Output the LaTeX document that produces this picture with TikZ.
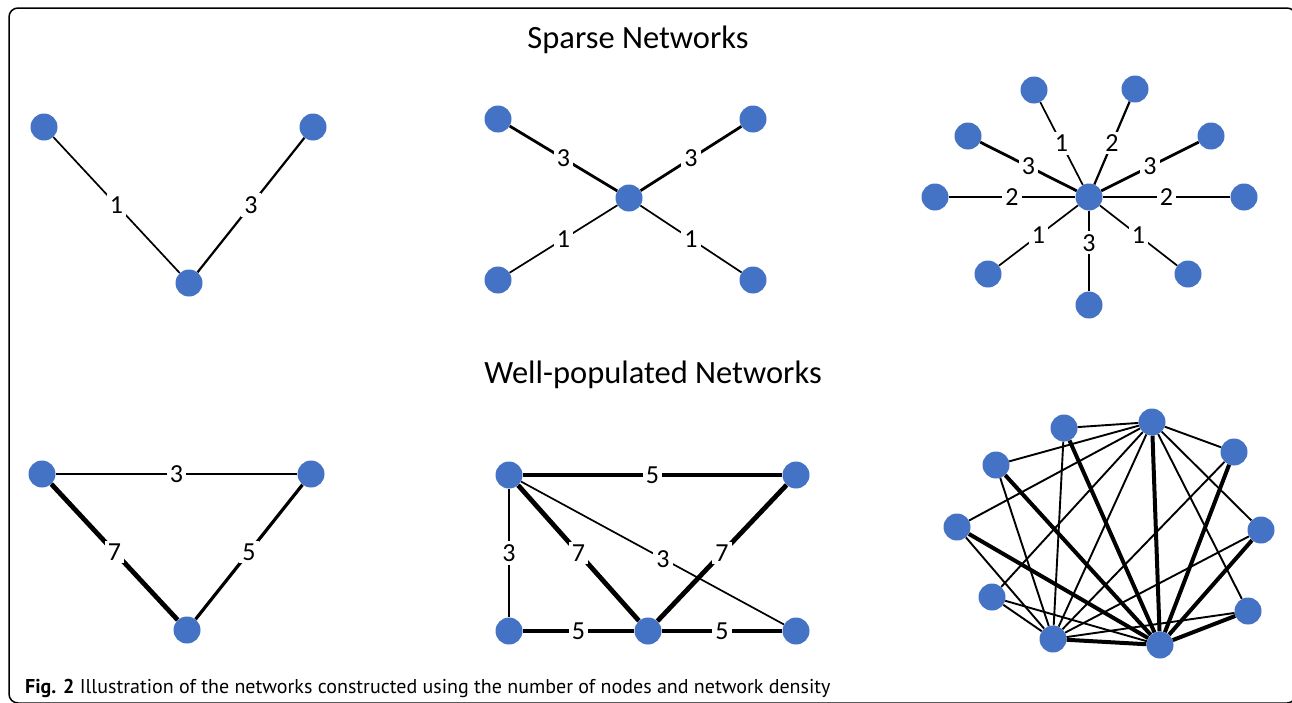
\documentclass[tikz,border=0pt]{standalone}
\usepackage{fontspec}
\setmainfont{Carlito}
\newfontfamily\capfont{PT Sans}
\usetikzlibrary {positioning}
\definecolor{nodeblue}{RGB}{68,114,196}
\tikzset{
vertA/.style={circle,fill=nodeblue,minimum size=27pt,inner sep=0pt}
}
\tikzset{
wlabel/.style={fill=white,inner sep=3pt,font=\fontsize{26}{28}\selectfont}
}
\tikzset{
edgeA/.style={line width=1.7pt},
edgeB/.style={line width=2.2pt},
edgeC/.style={line width=2.8pt},
edgeD/.style={line width=3.2pt},
edgeE/.style={line width=4.8pt}
}
\begin{document}
\begin{tikzpicture}[x=1pt,y=-1pt]
\useasboundingbox (0,0) rectangle (1292,702);
\begin{scope}
\clip (0,0) rectangle (1292,702);
\draw[line width=1.5pt,rounded corners=9pt] (9,8) rectangle (1296,703);
\end{scope}

\node[font=\fontsize{32.5}{36}\selectfont] (titleA) at (638,40) {Sparse Networks};
\node[font=\fontsize{32.5}{36}\selectfont] (titleB) at (653,375) {Well-populated Networks};
%------------------------------------------------------------------------------------------------------------%
\node[vertA] (a1) at (44,127) {};
\node[vertA] (a2) at (313,127) {};
\node[vertA] (a3) at (189,283) {};
\draw[edgeA] (a1) -- node[wlabel]{1} (a3);
\draw[edgeB] (a2) -- node[wlabel]{3} (a3);
%------------------------------------------------------------------------------------------------------------%
\node[vertA] (b0) at (629,198) {};
\node[vertA] (b1) at (498,119) {};
\node[vertA] (b2) at (753,119) {};
\node[vertA] (b3) at (498,280) {};
\node[vertA] (b4) at (753,280) {};
\draw[edgeC] (b1) -- node[wlabel]{3} (b0);
\draw[edgeC] (b2) -- node[wlabel]{3} (b0);
\draw[edgeA] (b3) -- node[wlabel]{1} (b0);
\draw[edgeA] (b4) -- node[wlabel]{1} (b0);
%------------------------------------------------------------------------------------------------------------%
\node[vertA] (c0) at (1089,197) {};
\node[vertA] (c1) at (1034,90) {};
\node[vertA] (c2) at (1135,89) {};
\node[vertA] (c3) at (968,136) {};
\node[vertA] (c4) at (1211,136) {};
\node[vertA] (c5) at (935,197) {};
\node[vertA] (c6) at (1244,197) {};
\node[vertA] (c7) at (988,274) {};
\node[vertA] (c8) at (1188,274) {};
\node[vertA] (c9) at (1089,305) {};
\draw[edgeA] (c1) -- node[wlabel]{1} (c0);
\draw[edgeB] (c2) -- node[wlabel]{2} (c0);
\draw[edgeC] (c3) -- node[wlabel]{3} (c0);
\draw[edgeC] (c4) -- node[wlabel]{3} (c0);
\draw[edgeB] (c5) -- node[wlabel]{2} (c0);
\draw[edgeB] (c6) -- node[wlabel]{2} (c0);
\draw[edgeA] (c7) -- node[wlabel]{1} (c0);
\draw[edgeA] (c8) -- node[wlabel]{1} (c0);
\draw[edgeC] (c9) -- node[wlabel,pos=0.6]{3} (c0);
%------------------------------------------------------------------------------------------------------------%
\node[vertA] (d1) at (42,474) {};
\node[vertA] (d2) at (311,474) {};
\node[vertA] (d3) at (187,630) {};
\draw[edgeB] (d1) -- node[wlabel]{3} (d2);
\draw[edgeE] (d1) -- node[wlabel]{7} (d3);
\draw[edgeD] (d2) -- node[wlabel]{5} (d3);
%------------------------------------------------------------------------------------------------------------%
\node[vertA] (e1) at (509,475) {};
\node[vertA] (e2) at (796,475) {};
\node[vertA] (e3) at (509,631) {};
\node[vertA] (e4) at (648,631) {};
\node[vertA] (e5) at (796,631) {};
\draw[edgeD] (e1) -- node[wlabel]{5} (e2);
\draw[edgeB] (e1) -- node[wlabel]{3} (e3);
\draw[edgeE] (e1) -- node[wlabel]{7} (e4);
\draw[edgeA] (e1) -- node[wlabel,pos=0.54]{3} (e5);
\draw[edgeE] (e2) -- node[wlabel]{7} (e4);
\draw[edgeD] (e3) -- node[wlabel]{5} (e4);
\draw[edgeD] (e4) -- node[wlabel]{5} (e5);
%------------------------------------------------------------------------------------------------------------%
\node[vertA] (fA) at (1064,428) {};
\node[vertA] (fB) at (1152,422) {};
\node[vertA] (fC) at (1234,452) {};
\node[vertA] (fD) at (996,465) {};
\node[vertA] (fE) at (957,527) {};
\node[vertA] (fF) at (1261,530) {};
\node[vertA] (fG) at (992,597) {};
\node[vertA] (fH) at (1248,611) {};
\node[vertA] (fI) at (1053,639) {};
\node[vertA] (fJ) at (1160,645) {};
\foreach \p in {A,C,D,E,F,G,H}
{
\draw[line width=1.9pt] (f\p) -- (fB);
\draw[line width=1.9pt] (f\p) -- (fI);
}
\foreach \p in {A,B,C,D,E,F,H,I}
{
\draw[line width=4pt] (f\p) -- (fJ);
}
\draw[line width=1.9pt] (fB) -- (fI);
\draw[line width=1.9pt] (fG) -- (fJ);
%------------------------------------------------------------------------------------------------------------%
\node[anchor=base west,inner sep=0pt] (cap) at (25,693) {\capfont\fontsize{20}{23}\selectfont\textbf{Fig. 2} Illustration of the networks constructed using the number of nodes and network density};

\end{tikzpicture}
\end{document}
